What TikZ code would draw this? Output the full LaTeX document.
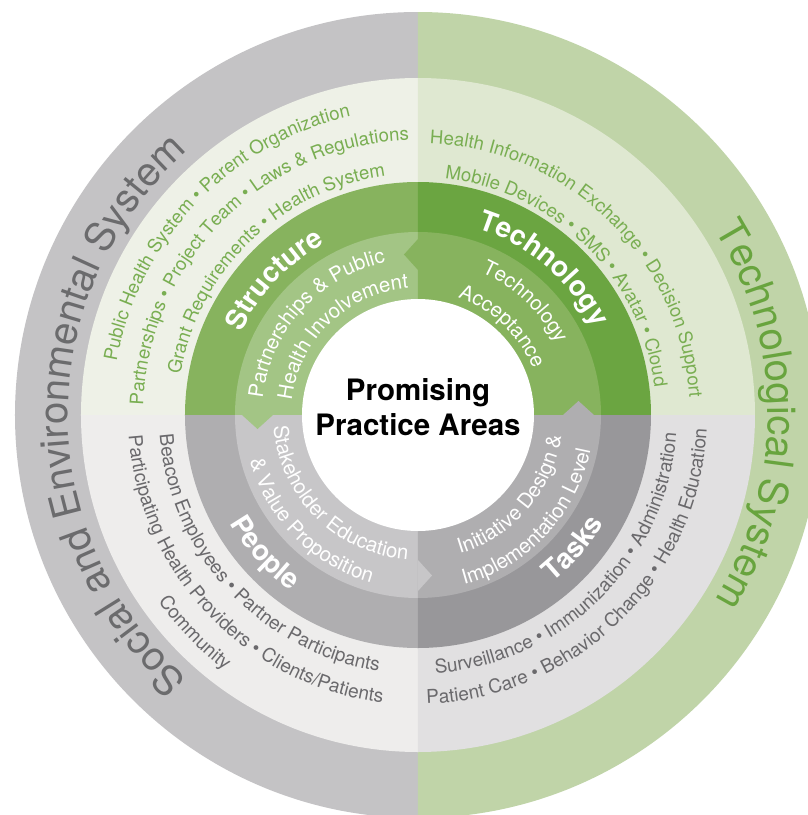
\documentclass[tikz,border=0pt]{standalone}
\usepackage{fontspec}
\setmainfont{TeX Gyre Heros}
\usetikzlibrary{decorations.text}
\definecolor{outgray}{HTML}{C4C3C5}
\definecolor{outgreen}{HTML}{C0D4A8}
\definecolor{ulLight}{HTML}{EEF1E7}
\definecolor{urLight}{HTML}{DFE8D1}
\definecolor{llLight}{HTML}{EEEDEC}
\definecolor{lrLight}{HTML}{E1E0E1}
\definecolor{structBand}{HTML}{87B35E}
\definecolor{techBand}{HTML}{6BA541}
\definecolor{structIn}{HTML}{A3C585}
\definecolor{techIn}{HTML}{87B35E}
\definecolor{peopleBand}{HTML}{AFAEB0}
\definecolor{tasksBand}{HTML}{98979A}
\definecolor{peopleIn}{HTML}{C7C6C8}
\definecolor{tasksIn}{HTML}{AFAEB0}
\definecolor{greenText}{HTML}{79AE52}
\definecolor{grayText}{HTML}{6A696C}
\definecolor{outGrayText}{HTML}{6B6B6D}
\definecolor{outGreenText}{HTML}{68A43E}
% sector: colour, start angle, end angle, radius
\newcommand{\qsector}[4]{\fill[#1] (0pt,0pt) -- (#2:#4) arc[start angle=#2, end angle=#3, radius=#4] -- cycle;}
% clockwise text (tops outward): radius, mid angle, text
\newcommand{\cwtext}[3]{\path[decorate,decoration={text along path,text align=center,text={#3}}] (#2+85:#1) arc[start angle=#2+85, end angle=#2-85, radius=#1];}
% counter-clockwise text (tops inward): radius, mid angle, text
\newcommand{\ccwtext}[3]{\path[decorate,decoration={text along path,text align=center,text={#3}}] (#2-85:#1) arc[start angle=#2-85, end angle=#2+85, radius=#1];}
\begin{document}
\begin{tikzpicture}[x=1pt,y=1pt]
\clip (-418pt,-400pt) rectangle (390pt,415pt);
\fill[white] (-418pt,-400pt) rectangle (390pt,415pt);
% outer ring
\qsector{outgray}{90}{270}{403pt}
\qsector{outgreen}{-90}{90}{403pt}
% light ring
\qsector{ulLight}{90}{180}{337pt}
\qsector{urLight}{0}{90}{337pt}
\qsector{llLight}{180}{270}{337pt}
\qsector{lrLight}{270}{360}{337pt}
% main bands
\qsector{structBand}{90}{180}{233pt}
\qsector{techBand}{0}{90}{233pt}
\qsector{peopleBand}{180}{270}{233pt}
\qsector{tasksBand}{270}{360}{233pt}
% inner bands
\qsector{structIn}{90}{180}{183pt}
\qsector{techIn}{0}{90}{183pt}
\qsector{peopleIn}{180}{270}{183pt}
\qsector{tasksIn}{270}{360}{183pt}
% chevrons (flow counter-clockwise)
\fill[techIn] (0pt,145pt) -- (-14pt,160.5pt) -- (0pt,176pt) -- cycle;
\fill[structIn] (-145pt,0pt) -- (-160.5pt,-14pt) -- (-176pt,0pt) -- cycle;
\fill[peopleIn] (0pt,-145pt) -- (14pt,-160.5pt) -- (0pt,-176pt) -- cycle;
\fill[tasksIn] (145pt,0pt) -- (160.5pt,14pt) -- (176pt,0pt) -- cycle;
% centre
\fill[white] (0pt,0pt) circle[radius=116pt];
\node[anchor=base,font=\bfseries\fontsize{29.5}{32}\selectfont] (promising) at (0pt,15pt) {Promising};
\node[anchor=base,font=\bfseries\fontsize{29.5}{32}\selectfont] (practice) at (0pt,-20pt) {Practice Areas};
% outer labels
\cwtext{350pt}{180}{|\color{outGrayText}\fontsize{40}{44}\selectfont|Social and Environmental System}
\cwtext{350pt}{0}{|\color{outGreenText}\fontsize{40}{44}\selectfont|Technological System}
% upper-left items
\cwtext{306pt}{136.3}{|\color{greenText}\fontsize{18.6}{20}\selectfont|Public Health System • Parent Organization}
\cwtext{275pt}{134.9}{|\color{greenText}\fontsize{18.6}{20}\selectfont|Partnerships • Project Team • Laws {\&} Regulations}
\cwtext{241pt}{134}{|\color{greenText}\fontsize{18.6}{20}\selectfont|Grant Requirements • Health System}
% upper-right items
\cwtext{272pt}{45.6}{|\color{greenText}\fontsize{18.6}{20}\selectfont|Health Information Exchange • Decision Support}
\cwtext{238pt}{45.1}{|\color{greenText}\fontsize{18.6}{20}\selectfont|Mobile Devices • SMS • Avatar • Cloud}
% lower-left items
\ccwtext{259pt}{222.8}{|\color{grayText}\fontsize{19}{20}\selectfont|Beacon Employees • Partner Participants}
\ccwtext{290pt}{223.5}{|\color{grayText}\fontsize{19}{20}\selectfont|Participating Health Providers • Clients/Patients}
\ccwtext{320pt}{224.3}{|\color{grayText}\fontsize{19}{20}\selectfont|Community}
% lower-right items
\ccwtext{259pt}{314.9}{|\color{grayText}\fontsize{19}{20}\selectfont|Surveillance • Immunization • Administration}
\ccwtext{289pt}{314.5}{|\color{grayText}\fontsize{19}{20}\selectfont|Patient Care • Behavior Change • Health Education}
% band labels
\cwtext{195pt}{136.7}{|\color{white}\bfseries\fontsize{28}{30}\selectfont|Structure}
\cwtext{196pt}{49.4}{|\color{white}\bfseries\fontsize{28}{30}\selectfont|Technology}
\ccwtext{217pt}{222}{|\color{white}\bfseries\fontsize{28}{30}\selectfont|People}
\ccwtext{215pt}{319.3}{|\color{white}\bfseries\fontsize{28}{30}\selectfont|Tasks}
% inner labels
\cwtext{156pt}{137.9}{|\color{white}\fontsize{20.5}{22}\selectfont|Partnerships {\&} Public}
\cwtext{127pt}{133.8}{|\color{white}\fontsize{20.5}{22}\selectfont|Health Involvement}
\cwtext{156pt}{46.6}{|\color{white}\fontsize{20.5}{22}\selectfont|Technology}
\cwtext{124pt}{46.5}{|\color{white}\fontsize{20.5}{22}\selectfont|Acceptance}
\ccwtext{145pt}{225.2}{|\color{white}\fontsize{20.5}{22}\selectfont|Stakeholder Education}
\ccwtext{174pt}{224.7}{|\color{white}\fontsize{20.5}{22}\selectfont|{\&} Value Proposition}
\ccwtext{145pt}{319.2}{|\color{white}\fontsize{20.5}{22}\selectfont|Initiative Design {\&}}
\ccwtext{176pt}{316.9}{|\color{white}\fontsize{20.5}{22}\selectfont|Implementation Level}
\end{tikzpicture}
\end{document}
